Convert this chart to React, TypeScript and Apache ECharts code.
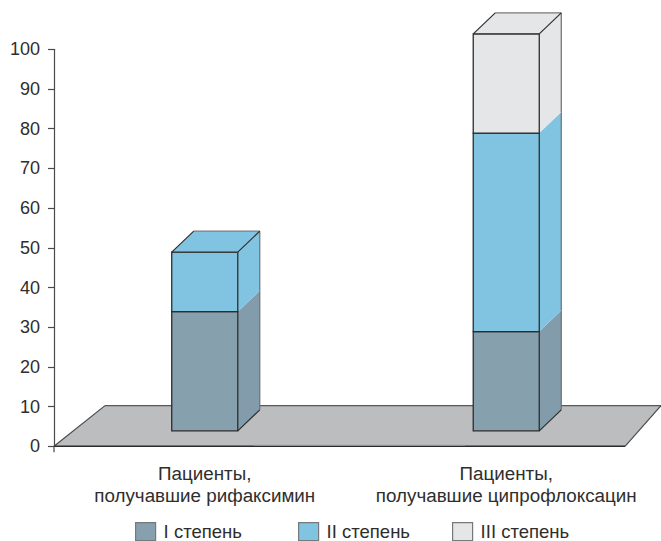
import React, { useEffect, useRef } from "react";
import * as echarts from "echarts";

const categories = ["Пациенты,\nполучавшие рифаксимин", "Пациенты,\nполучавшие ципрофлоксацин"];
const gradeNames = ["I степень", "II степень", "III степень"];
const gradeOne = [30, 25];
const gradeTwo = [15, 50];
const gradeThree = [0, 25];
const gradeColors = ["#86a0ae", "#80c4e2", "#e5e6e8"];
const sideColors = ["#829cab", "#80c4e2", "#e5e6e8"];
const yTicks = { min: 0, max: 100, interval: 10 };

// The bars stand on the floor plane, slightly above the axis zero.
const FLOOR_LIFT = 3.9;
const FLOOR_BACK = 10;
const DEPTH_X = 22;
const DEPTH_Y = 21;
const BAR_RATIO = 0.219;
const INK = "#2e2d2c";
const TEXT = "#2f2e2d";
const FONT = "'Liberation Sans', Arial, sans-serif";

const grades = [gradeOne, gradeTwo, gradeThree];

const stackedRows = (grade: number) =>
  categories.map((_, i) => {
    let start = FLOOR_LIFT;
    for (let g = 0; g < grade; g++) start += grades[g][i];
    return [i, start, start + grades[grade][i]];
  });

const isStackTop = (grade: number, cat: number) => {
  for (let g = grade + 1; g < grades.length; g++) if (grades[g][cat] > 0) return false;
  return true;
};

const renderSegment = (grade: number) => (params: any, api: any) => {
  const cat = api.value(0);
  const from = api.value(1);
  const to = api.value(2);
  if (to <= from) return { type: "group", children: [] };
  const half = (api.size([1, 0])[0] * BAR_RATIO) / 2;
  const [cx, yBottom] = api.coord([cat, from]);
  const [, yTop] = api.coord([cat, to]);
  const x0 = cx - half;
  const x1 = cx + half;
  const line = (x1a: number, y1a: number, x2a: number, y2a: number, stroke: string) => ({
    type: "line",
    shape: { x1: x1a, y1: y1a, x2: x2a, y2: y2a },
    style: { stroke, lineWidth: 1.2 },
  });
  const children: any[] = [
    {
      type: "polygon",
      shape: {
        points: [
          [x1, yBottom],
          [x1 + DEPTH_X, yBottom - DEPTH_Y],
          [x1 + DEPTH_X, yTop - DEPTH_Y],
          [x1, yTop],
        ],
      },
      style: { fill: sideColors[grade] },
    },
    line(x1 + DEPTH_X, yBottom - DEPTH_Y, x1 + DEPTH_X, yTop - DEPTH_Y, "#6d6e70"),
    {
      type: "rect",
      shape: { x: x0, y: yTop, width: x1 - x0, height: yBottom - yTop },
      style: { fill: gradeColors[grade], stroke: INK, lineWidth: 1.3 },
    },
  ];
  if (grade === 0) children.push(line(x1, yBottom, x1 + DEPTH_X, yBottom - DEPTH_Y, INK));
  if (isStackTop(grade, cat)) {
    children.push({
      type: "polygon",
      shape: {
        points: [
          [x0, yTop],
          [x0 + DEPTH_X, yTop - DEPTH_Y],
          [x1 + DEPTH_X, yTop - DEPTH_Y],
          [x1, yTop],
        ],
      },
      style: { fill: gradeColors[grade] },
    });
    children.push(line(x0 + DEPTH_X, yTop - DEPTH_Y, x1 + DEPTH_X, yTop - DEPTH_Y, "#77787a"));
    children.push(line(x0, yTop, x0 + DEPTH_X, yTop - DEPTH_Y, INK));
    children.push(line(x1, yTop, x1 + DEPTH_X, yTop - DEPTH_Y, INK));
    children.push(line(x0, yTop, x1, yTop, INK));
  }
  return { type: "group", children };
};

// Floor parallelogram, spanning the plot from the axis origin to the back plane.
const renderFloor = (params: any, api: any) => {
  const sys = params.coordSys;
  const [, yFront] = api.coord([0, 0]);
  const [, yBack] = api.coord([0, FLOOR_BACK]);
  const left = sys.x;
  const right = sys.x + sys.width;
  const stroke = (a: number[], b: number[], color: string, w = 1.2) => ({
    type: "line",
    shape: { x1: a[0], y1: a[1], x2: b[0], y2: b[1] },
    style: { stroke: color, lineWidth: w },
  });
  const fl = [left, yFront];
  const bl = [left + 51, yBack - 1];
  const br = [right + 4, yBack - 1];
  const fr = [right - 32, yFront];
  return {
    type: "group",
    children: [
      { type: "polygon", shape: { points: [fl, bl, br, fr] }, style: { fill: "#bcbdbf" } },
      stroke(fl, bl, "#4a4a4a"),
      stroke(bl, br, "#58585a", 1.3),
      stroke(fr, br, "#4a4a4a"),
      stroke(fl, fr, "#2b2a29", 1.4),
      stroke([left + 200, yFront - 1], [left + 411, yFront - 1], "#98999b", 1),
      stroke([left, yFront], [left, yFront + 6], "#4a4a4a", 1.2),
    ],
  };
};

const legendAt = (name: string, left: number) => ({
  data: [name],
  left,
  top: 522,
  padding: 0,
  itemWidth: 20,
  itemHeight: 18,
  selectedMode: false,
  icon: "rect",
  itemStyle: { borderColor: "#77787a", borderWidth: 1.2 },
  textStyle: { fontFamily: FONT, fontSize: 18.5, color: TEXT, padding: [0, 0, 0, 3] },
});

export default function App() {
  const ref = useRef<HTMLDivElement>(null);

  useEffect(() => {
    document.body.style.margin = "0";
    const chart = echarts.init(ref.current!, null, { renderer: "svg" });
    chart.setOption({
      animation: false,
      backgroundColor: "#ffffff",
      grid: { left: 54, top: 49.3, width: 603, height: 397 },
      legend: [legendAt(gradeNames[0], 135), legendAt(gradeNames[1], 298), legendAt(gradeNames[2], 452)],
      xAxis: {
        type: "category",
        data: categories,
        axisLine: { show: false },
        axisTick: { show: false },
        axisLabel: {
          margin: 16,
          lineHeight: 22,
          fontFamily: FONT,
          fontSize: 18.8,
          color: TEXT,
          interval: 0,
        },
      },
      yAxis: {
        type: "value",
        ...yTicks,
        splitLine: { show: false },
        axisLine: { show: true, lineStyle: { color: "#4a4a4a", width: 1.2 } },
        axisTick: { show: true, length: 6, lineStyle: { color: "#4a4a4a", width: 1.2 } },
        axisLabel: { margin: 14, fontFamily: FONT, fontSize: 18, color: TEXT },
      },
      series: [
        {
          type: "custom",
          silent: true,
          renderItem: renderFloor,
          data: [[0, 0]],
          encode: { x: 0, y: 1 },
          z: 1,
        },
        ...gradeNames.map((name, grade) => ({
          type: "custom",
          name,
          silent: true,
          itemStyle: { color: gradeColors[grade] },
          renderItem: renderSegment(grade),
          data: stackedRows(grade),
          encode: { x: 0, y: [1, 2] },
          z: 2 + grade,
        })),
      ],
    });
    return () => chart.dispose();
  }, []);

  return <div ref={ref} style={{ width: 661, height: 541 }} />;
}
